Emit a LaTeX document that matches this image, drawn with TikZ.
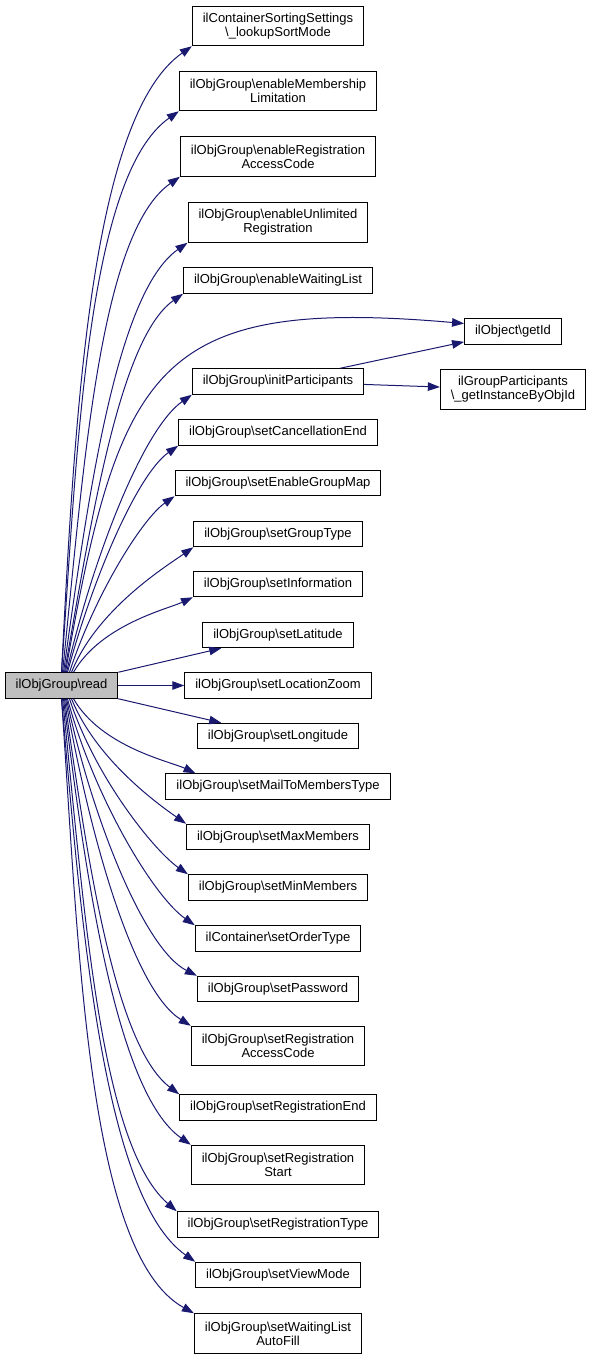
\documentclass[tikz,border=0pt]{standalone}
\usepackage{fontspec}
\setmainfont{Liberation Sans}
\usetikzlibrary{arrows.meta}
\definecolor{edgeblue}{HTML}{191970}
\definecolor{rootgray}{HTML}{BFBFBF}

\begin{document}
\begin{tikzpicture}[->, >={Triangle[length=12pt,width=8.5pt]}, x=1pt, y=1pt, line width=1pt, font=\fontsize{13}{14}\selectfont]
      \tikzstyle{func}=[rectangle, draw=black, fill=white, inner xsep=10.5pt, inner ysep=0pt, minimum height=25.5pt, align=center]
      \tikzstyle{func2}=[func, minimum height=39.5pt]
      \tikzstyle{every edge}=[draw=edgeblue]
      \tikzstyle{fanup}=[in=215, in looseness=0.5]
      \tikzstyle{fandown}=[in=145, in looseness=0.5]
      \useasboundingbox (0,0) rectangle (593,-1360);
      % callees above the caller
      \node[func2] (sortmode) at (278,-26) {ilContainerSortingSettings\\\textbackslash\_lookupSortMode};
      \node[func2] (membership) at (278,-91) {ilObjGroup\textbackslash enableMembership\\Limitation};
      \node[func2] (regcode) at (278,-156.5) {ilObjGroup\textbackslash enableRegistration\\AccessCode};
      \node[func2] (unlimited) at (278,-222.5) {ilObjGroup\textbackslash enableUnlimited\\Registration};
      \node[func] (waitlist) at (278,-280.5) {ilObjGroup\textbackslash enableWaitingList};
      \node[func] (getid) at (513,-331.5) {ilObject\textbackslash getId};
      \node[func] (initpart) at (278,-381.5) {ilObjGroup\textbackslash initParticipants};
      \node[func2] (getinstance) at (513,-389.5) {ilGroupParticipants\\\textbackslash\_getInstanceByObjId};
      \node[func] (cancelend) at (278,-432.5) {ilObjGroup\textbackslash setCancellationEnd};
      \node[func] (groupmap) at (278,-483) {ilObjGroup\textbackslash setEnableGroupMap};
      \node[func] (grouptype) at (278,-534) {ilObjGroup\textbackslash setGroupType};
      \node[func] (information) at (278,-584) {ilObjGroup\textbackslash setInformation};
      \node[func] (latitude) at (278,-635) {ilObjGroup\textbackslash setLatitude};
      % the caller
      \node[func, fill=rootgray] (read) at (61.5,-685.5) {ilObjGroup\textbackslash read};
      \node[func] (loczoom) at (278,-685.5) {ilObjGroup\textbackslash setLocationZoom};
      % callees below the caller
      \node[func] (longitude) at (278,-736) {ilObjGroup\textbackslash setLongitude};
      \node[func] (mailtype) at (278,-786.5) {ilObjGroup\textbackslash setMailToMembersType};
      \node[func] (maxmem) at (278,-837) {ilObjGroup\textbackslash setMaxMembers};
      \node[func] (minmem) at (278,-887.5) {ilObjGroup\textbackslash setMinMembers};
      \node[func] (ordertype) at (278,-938.5) {ilContainer\textbackslash setOrderType};
      \node[func] (password) at (278,-989) {ilObjGroup\textbackslash setPassword};
      \node[func2] (regaccess) at (278,-1046) {ilObjGroup\textbackslash setRegistration\\AccessCode};
      \node[func] (regend) at (278,-1107.5) {ilObjGroup\textbackslash setRegistrationEnd};
      \node[func2] (regstart) at (278,-1165) {ilObjGroup\textbackslash setRegistration\\Start};
      \node[func] (regtype) at (278,-1224.5) {ilObjGroup\textbackslash setRegistrationType};
      \node[func] (viewmode) at (278,-1275) {ilObjGroup\textbackslash setViewMode};
      \node[func2] (autofill) at (278,-1333.5) {ilObjGroup\textbackslash setWaitingList\\AutoFill};
      \path
      (read.north) edge[fanup, out=87] (sortmode.south west)
      (read.north) edge[fanup, out=86] (membership.south west)
      ([xshift=1]read.north) edge[fanup, out=84] (regcode.south west)
      ([xshift=2]read.north) edge[fanup, out=82] (unlimited.south west)
      ([xshift=3]read.north) edge[fanup, out=80] (waitlist.south west)
      ([xshift=4]read.north) edge[out=80, out looseness=1.5, in=175, in looseness=1.5] ([yshift=8]getid.west)
      ([xshift=5]read.north) edge[fanup, out=77] (initpart.south west)
      ([xshift=6]read.north) edge[fanup, out=75] (cancelend.south west)
      ([xshift=8]read.north) edge[fanup, out=72] (groupmap.south west)
      ([xshift=10]read.north) edge[fanup, out=68] (grouptype.south west)
      ([xshift=12]read.north) edge[fanup, out=60, in=205] (information.south west)
      (read) edge (latitude)
      (read) edge (loczoom)
      (read) edge (longitude)
      ([xshift=12]read.south) edge[fandown, out=-60, in=155] ([xshift=30]mailtype.north west)
      ([xshift=10]read.south) edge[fandown, out=-68] (maxmem.north west)
      ([xshift=8]read.south) edge[fandown, out=-72] (minmem.north west)
      ([xshift=6]read.south) edge[fandown, out=-75] (ordertype.north west)
      ([xshift=5]read.south) edge[fandown, out=-78, in=153] (password.north west)
      ([xshift=4]read.south) edge[fandown, out=-80, in=148] (regaccess.north west)
      ([xshift=3]read.south) edge[fandown, out=-82, in=143] (regend.north west)
      ([xshift=2]read.south) edge[fandown, out=-83] (regstart.north west)
      ([xshift=1]read.south) edge[fandown, out=-84, in=139] (regtype.north west)
      (read.south) edge[fandown, out=-85] (viewmode.north west)
      (read.south) edge[fandown, out=-86, in=151] (autofill.north west)
      (initpart) edge (getid)
      (initpart) edge (getinstance);
    \end{tikzpicture}
\end{document}
